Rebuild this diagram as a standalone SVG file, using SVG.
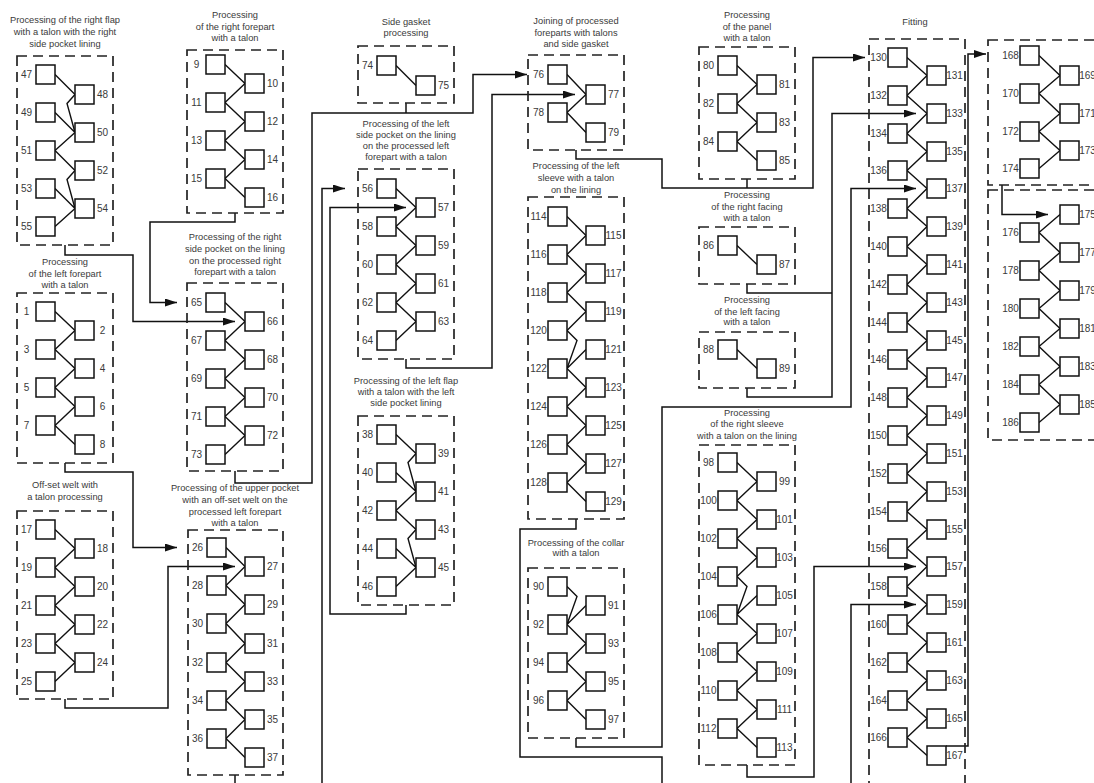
<svg xmlns="http://www.w3.org/2000/svg" xmlns:xlink="http://www.w3.org/1999/xlink" width="1094" height="783" viewBox="0 0 1094 783">
<style>
  .frame { fill: none; stroke: #222; stroke-width: 1.7; stroke-dasharray: 10 6; }
  .box { fill: #fff; stroke: #111; stroke-width: 1.5; }
  .link { fill: none; stroke: #111; stroke-width: 1.4; stroke-linejoin: miter; }
  .conn { fill: none; stroke: #111; stroke-width: 1.5; }
  .title { font-family: "Liberation Sans", Arial, sans-serif; font-size: 9.3px; fill: #3a3a3a; text-anchor: middle; }
  .num { font-family: "Liberation Sans", Arial, sans-serif; font-size: 10px; fill: #3a3a3a; text-anchor: middle; }
</style>
<defs>
  <rect id="sq" width="19" height="19" class="box"/>
  <marker id="arrow" markerUnits="userSpaceOnUse" markerWidth="12" markerHeight="8" refX="12" refY="4" orient="auto">
    <path d="M0,0 L12,4 L0,8 Z" fill="#111"/>
  </marker>
</defs>
<rect width="1094" height="783" fill="#fff"/>

<!-- connectors between process blocks -->
<g id="connectors">
  <path class="conn" d="M65,245 V255 H133 V321.5 H235" marker-end="url(#arrow)"/>
  <path class="conn" d="M235,213 V222 H150 V302.5 H177" marker-end="url(#arrow)"/>
  <path class="conn" d="M65,463 V472 H133 V547.5 H177" marker-end="url(#arrow)"/>
  <path class="conn" d="M65,699 V708 H168 V566.5 H235" marker-end="url(#arrow)"/>
  <path class="conn" d="M235,775 V795 H322 V188.5 H345" marker-end="url(#arrow)"/>
  <path class="conn" d="M235,471 V483 H312 V113 H473 V74.5 H527" marker-end="url(#arrow)"/>
  <path class="conn" d="M406,103 V113"/>
  <path class="conn" d="M406,605 V614 H330 V207.5 H406" marker-end="url(#arrow)"/>
  <path class="conn" d="M406,359 V368 H492 V94.5 H575" marker-end="url(#arrow)"/>
  <path class="conn" d="M576,150 V159 H662 V188 H813 V57.5 H865" marker-end="url(#arrow)"/>
  <path class="conn" d="M747,179 V188"/>
  <path class="conn" d="M747,284 V293 H832"/>
  <path class="conn" d="M747,388 V397 H832 V113.5 H916" marker-end="url(#arrow)"/>
  <path class="conn" d="M576,738 V747 H662 V407 H851 V188.5 H916" marker-end="url(#arrow)"/>
  <path class="conn" d="M576,519 V529 H520 V757 H662 V795 H851 V604.5 H916" marker-end="url(#arrow)"/>
  <path class="conn" d="M747,765 V777 H814 V566.5 H916" marker-end="url(#arrow)"/>
  <path class="conn" d="M946,746 H968 V54 H986" marker-end="url(#arrow)"/>
  <path class="conn" d="M1002,185 V214.5 H1048" marker-end="url(#arrow)"/>
</g>

<!-- right flap with the right side pocket lining -->
<g id="right-flap">
  <text class="title"><tspan x="65" y="23">Processing of the right flap</tspan><tspan x="65" y="35">with a talon with the right</tspan><tspan x="65" y="47">side pocket lining</tspan></text>
  <rect class="frame" x="17" y="56" width="96" height="189"/>
  <path class="link" d="M55,74.5L75,94.5 M75,94.5L67,103.5L75,132.5 M55,112.5L75,132.5 M55,150.5L75,132.5 M55,150.5L75,170.5 M75,170.5L67,179.5L75,208.5 M55,188.5L75,208.5 M55,226.5L75,208.5"/>
  <use href="#sq" x="36" y="65"/><use href="#sq" x="36" y="103"/><use href="#sq" x="36" y="141"/><use href="#sq" x="36" y="179"/><use href="#sq" x="36" y="217"/>
  <use href="#sq" x="75" y="85"/><use href="#sq" x="75" y="123"/><use href="#sq" x="75" y="161"/><use href="#sq" x="75" y="199"/>
  <text class="num" x="26.5" y="78">47</text><text class="num" x="26.5" y="116">49</text><text class="num" x="26.5" y="154">51</text><text class="num" x="26.5" y="192">53</text><text class="num" x="26.5" y="230">55</text>
  <text class="num" x="102.5" y="98">48</text><text class="num" x="102.5" y="136">50</text><text class="num" x="102.5" y="174">52</text><text class="num" x="102.5" y="212">54</text>
</g>

<!-- right forepart -->
<g id="right-forepart">
  <text class="title"><tspan x="235" y="18">Processing</tspan><tspan x="235" y="30">of the right forepart</tspan><tspan x="235" y="41">with a talon</tspan></text>
  <rect class="frame" x="187" y="50" width="96" height="163"/>
  <path class="link" d="M225,64.5 L245,83.5 L225,102.5 L245,121.5 L225,140.5 L245,159.5 L225,178.5 L245,197.5"/>
  <use href="#sq" x="206" y="55"/><use href="#sq" x="206" y="93"/><use href="#sq" x="206" y="131"/><use href="#sq" x="206" y="169"/>
  <use href="#sq" x="245" y="74"/><use href="#sq" x="245" y="112"/><use href="#sq" x="245" y="150"/><use href="#sq" x="245" y="188"/>
  <text class="num" x="196.5" y="68">9</text><text class="num" x="196.5" y="106">11</text><text class="num" x="196.5" y="144">13</text><text class="num" x="196.5" y="182">15</text>
  <text class="num" x="272.5" y="87">10</text><text class="num" x="272.5" y="125">12</text><text class="num" x="272.5" y="163">14</text><text class="num" x="272.5" y="201">16</text>
</g>

<!-- left forepart -->
<g id="left-forepart">
  <text class="title"><tspan x="65" y="265">Processing</tspan><tspan x="65" y="277">of the left forepart</tspan><tspan x="65" y="288">with a talon</tspan></text>
  <rect class="frame" x="17" y="293" width="96" height="170"/>
  <path class="link" d="M55,311.5 L75,330.5 L55,349.5 L75,368.5 L55,387.5 L75,406.5 L55,425.5 L75,444.5"/>
  <use href="#sq" x="36" y="302"/><use href="#sq" x="36" y="340"/><use href="#sq" x="36" y="378"/><use href="#sq" x="36" y="416"/>
  <use href="#sq" x="75" y="321"/><use href="#sq" x="75" y="359"/><use href="#sq" x="75" y="397"/><use href="#sq" x="75" y="435"/>
  <text class="num" x="26.5" y="315">1</text><text class="num" x="26.5" y="353">3</text><text class="num" x="26.5" y="391">5</text><text class="num" x="26.5" y="429">7</text>
  <text class="num" x="102.5" y="334">2</text><text class="num" x="102.5" y="372">4</text><text class="num" x="102.5" y="410">6</text><text class="num" x="102.5" y="448">8</text>
</g>

<!-- off-set welt -->
<g id="offset-welt">
  <text class="title"><tspan x="65" y="488">Off-set welt with</tspan><tspan x="65" y="500">a talon processing</tspan></text>
  <rect class="frame" x="17" y="511" width="96" height="188"/>
  <path class="link" d="M55,529.5 L75,548.5 L55,567.5 L75,586.5 L55,605.5 L75,624.5 L55,643.5 L75,662.5 L55,681.5"/>
  <use href="#sq" x="36" y="520"/><use href="#sq" x="36" y="558"/><use href="#sq" x="36" y="596"/><use href="#sq" x="36" y="634"/><use href="#sq" x="36" y="672"/>
  <use href="#sq" x="75" y="539"/><use href="#sq" x="75" y="577"/><use href="#sq" x="75" y="615"/><use href="#sq" x="75" y="653"/>
  <text class="num" x="26.5" y="533">17</text><text class="num" x="26.5" y="571">19</text><text class="num" x="26.5" y="609">21</text><text class="num" x="26.5" y="647">23</text><text class="num" x="26.5" y="685">25</text>
  <text class="num" x="102.5" y="552">18</text><text class="num" x="102.5" y="590">20</text><text class="num" x="102.5" y="628">22</text><text class="num" x="102.5" y="666">24</text>
</g>

<!-- upper pocket with off-set welt -->
<g id="upper-pocket">
  <text class="title"><tspan x="235" y="491">Processing of the upper pocket</tspan><tspan x="235" y="503">with an off-set welt on the</tspan><tspan x="235" y="515">processed left forepart</tspan><tspan x="235" y="526">with a talon</tspan></text>
  <rect class="frame" x="188" y="530" width="95" height="245"/>
  <path class="link" d="M226,547.5 L245,566.5 L226,585.5 L245,604.5 L226,623.5 L245,643.5 L226,662.5 L245,681.5 L226,700.5 L245,719.5 L226,738.5 L245,757.5"/>
  <use href="#sq" x="207" y="538"/><use href="#sq" x="207" y="576"/><use href="#sq" x="207" y="614"/><use href="#sq" x="207" y="653"/><use href="#sq" x="207" y="691"/><use href="#sq" x="207" y="729"/>
  <use href="#sq" x="245" y="557"/><use href="#sq" x="245" y="595"/><use href="#sq" x="245" y="634"/><use href="#sq" x="245" y="672"/><use href="#sq" x="245" y="710"/><use href="#sq" x="245" y="748"/>
  <text class="num" x="197.5" y="551">26</text><text class="num" x="197.5" y="589">28</text><text class="num" x="197.5" y="627">30</text><text class="num" x="197.5" y="666">32</text><text class="num" x="197.5" y="704">34</text><text class="num" x="197.5" y="742">36</text>
  <text class="num" x="272.5" y="570">27</text><text class="num" x="272.5" y="608">29</text><text class="num" x="272.5" y="647">31</text><text class="num" x="272.5" y="685">33</text><text class="num" x="272.5" y="723">35</text><text class="num" x="272.5" y="761">37</text>
</g>

<!-- right side pocket on the lining -->
<g id="right-side-pocket">
  <text class="title"><tspan x="235" y="240">Processing of the right</tspan><tspan x="235" y="252">side pocket on the lining</tspan><tspan x="235" y="264">on the processed right</tspan><tspan x="235" y="275">forepart with a talon</tspan></text>
  <rect class="frame" x="187" y="283" width="96" height="188"/>
  <path class="link" d="M225,302.5 L245,321.5 L225,340.5 L245,359.5 L225,378.5 L245,397.5 L225,416.5 L245,435.5 L225,454.5"/>
  <use href="#sq" x="206" y="293"/><use href="#sq" x="206" y="331"/><use href="#sq" x="206" y="369"/><use href="#sq" x="206" y="407"/><use href="#sq" x="206" y="445"/>
  <use href="#sq" x="245" y="312"/><use href="#sq" x="245" y="350"/><use href="#sq" x="245" y="388"/><use href="#sq" x="245" y="426"/>
  <text class="num" x="196.5" y="306">65</text><text class="num" x="196.5" y="344">67</text><text class="num" x="196.5" y="382">69</text><text class="num" x="196.5" y="420">71</text><text class="num" x="196.5" y="458">73</text>
  <text class="num" x="272.5" y="325">66</text><text class="num" x="272.5" y="363">68</text><text class="num" x="272.5" y="401">70</text><text class="num" x="272.5" y="439">72</text>
</g>

<!-- side gasket -->
<g id="side-gasket">
  <text class="title"><tspan x="406" y="25">Side gasket</tspan><tspan x="406" y="36">processing</tspan></text>
  <rect class="frame" x="358" y="46" width="96" height="57"/>
  <path class="link" d="M396,65.5 L416,85.5"/>
  <use href="#sq" x="377" y="56"/><use href="#sq" x="416" y="76"/>
  <text class="num" x="367.5" y="69">74</text><text class="num" x="443.5" y="89">75</text>
</g>

<!-- left side pocket on the lining -->
<g id="left-side-pocket">
  <text class="title"><tspan x="406" y="127">Processing of the left</tspan><tspan x="406" y="138">side pocket on the lining</tspan><tspan x="406" y="149">on the processed left</tspan><tspan x="406" y="160">forepart with a talon</tspan></text>
  <rect class="frame" x="358" y="169" width="96" height="190"/>
  <path class="link" d="M396,188.5 L416,207.5 L396,226.5 L416,245.5 L396,264.5 L416,283.5 L396,302.5 L416,321.5 L396,340.5"/>
  <use href="#sq" x="377" y="179"/><use href="#sq" x="377" y="217"/><use href="#sq" x="377" y="255"/><use href="#sq" x="377" y="293"/><use href="#sq" x="377" y="331"/>
  <use href="#sq" x="416" y="198"/><use href="#sq" x="416" y="236"/><use href="#sq" x="416" y="274"/><use href="#sq" x="416" y="312"/>
  <text class="num" x="367.5" y="192">56</text><text class="num" x="367.5" y="230">58</text><text class="num" x="367.5" y="268">60</text><text class="num" x="367.5" y="306">62</text><text class="num" x="367.5" y="344">64</text>
  <text class="num" x="443.5" y="211">57</text><text class="num" x="443.5" y="249">59</text><text class="num" x="443.5" y="287">61</text><text class="num" x="443.5" y="325">63</text>
</g>

<!-- left flap with the left side pocket lining -->
<g id="left-flap">
  <text class="title"><tspan x="406" y="384">Processing of the left flap</tspan><tspan x="406" y="395">with a talon with the left</tspan><tspan x="406" y="406">side pocket lining</tspan></text>
  <rect class="frame" x="358" y="416" width="96" height="189"/>
  <path class="link" d="M396,434.5L416,453.5 M416,453.5L408,462.5L416,491.5 M396,472.5L416,491.5 M396,510.5L416,491.5 M396,510.5L416,529.5 M416,529.5L408,538.5L416,567.5 M396,548.5L416,567.5 M396,586.5L416,567.5"/>
  <use href="#sq" x="377" y="425"/><use href="#sq" x="377" y="463"/><use href="#sq" x="377" y="501"/><use href="#sq" x="377" y="539"/><use href="#sq" x="377" y="577"/>
  <use href="#sq" x="416" y="444"/><use href="#sq" x="416" y="482"/><use href="#sq" x="416" y="520"/><use href="#sq" x="416" y="558"/>
  <text class="num" x="367.5" y="438">38</text><text class="num" x="367.5" y="476">40</text><text class="num" x="367.5" y="514">42</text><text class="num" x="367.5" y="552">44</text><text class="num" x="367.5" y="590">46</text>
  <text class="num" x="443.5" y="457">39</text><text class="num" x="443.5" y="495">41</text><text class="num" x="443.5" y="533">43</text><text class="num" x="443.5" y="571">45</text>
</g>

<!-- joining of foreparts and side gasket -->
<g id="joining">
  <text class="title"><tspan x="576" y="24">Joining of processed</tspan><tspan x="576" y="36">foreparts with talons</tspan><tspan x="576" y="47">and side gasket</tspan></text>
  <rect class="frame" x="528" y="55" width="96" height="95"/>
  <path class="link" d="M567,74.5 L586,94.5 L567,112.5 L586,132.5"/>
  <use href="#sq" x="548" y="65"/><use href="#sq" x="548" y="103"/>
  <use href="#sq" x="586" y="85"/><use href="#sq" x="586" y="123"/>
  <text class="num" x="538.5" y="78">76</text><text class="num" x="538.5" y="116">78</text>
  <text class="num" x="613.5" y="98">77</text><text class="num" x="613.5" y="136">79</text>
</g>

<!-- left sleeve on the lining -->
<g id="left-sleeve">
  <text class="title"><tspan x="576" y="169">Processing of the left</tspan><tspan x="576" y="181">sleeve with a talon</tspan><tspan x="576" y="193">on the lining</tspan></text>
  <rect class="frame" x="528" y="197" width="96" height="322"/>
  <path class="link" d="M567,216.5 L586,235.5 L567,254.5 L586,273.5 L567,292.5 L586,311.5 L567,330.5 M567,330.5 L577,340.5 L567,368.5 M586,349.5 L567,368.5 L586,387.5 L567,406.5 L586,425.5 L567,444.5 L586,463.5 L567,482.5 L586,501.5"/>
  <use href="#sq" x="548" y="207"/><use href="#sq" x="548" y="245"/><use href="#sq" x="548" y="283"/><use href="#sq" x="548" y="321"/><use href="#sq" x="548" y="359"/><use href="#sq" x="548" y="397"/><use href="#sq" x="548" y="435"/><use href="#sq" x="548" y="473"/>
  <use href="#sq" x="586" y="226"/><use href="#sq" x="586" y="264"/><use href="#sq" x="586" y="302"/><use href="#sq" x="586" y="340"/><use href="#sq" x="586" y="378"/><use href="#sq" x="586" y="416"/><use href="#sq" x="586" y="454"/><use href="#sq" x="586" y="492"/>
  <text class="num" x="538.5" y="220">114</text><text class="num" x="538.5" y="258">116</text><text class="num" x="538.5" y="296">118</text><text class="num" x="538.5" y="334">120</text><text class="num" x="538.5" y="372">122</text><text class="num" x="538.5" y="410">124</text><text class="num" x="538.5" y="448">126</text><text class="num" x="538.5" y="486">128</text>
  <text class="num" x="613.5" y="239">115</text><text class="num" x="613.5" y="277">117</text><text class="num" x="613.5" y="315">119</text><text class="num" x="613.5" y="353">121</text><text class="num" x="613.5" y="391">123</text><text class="num" x="613.5" y="429">125</text><text class="num" x="613.5" y="467">127</text><text class="num" x="613.5" y="505">129</text>
</g>

<!-- collar -->
<g id="collar">
  <text class="title"><tspan x="576" y="546">Processing of the collar</tspan><tspan x="576" y="556">with a talon</tspan></text>
  <rect class="frame" x="528" y="568" width="96" height="170"/>
  <path class="link" d="M567,586.5 L577,596.5 L567,624.5 M586,605.5 L567,624.5 L586,643.5 L567,662.5 L586,681.5 L567,700.5 L586,719.5"/>
  <use href="#sq" x="548" y="577"/><use href="#sq" x="548" y="615"/><use href="#sq" x="548" y="653"/><use href="#sq" x="548" y="691"/>
  <use href="#sq" x="586" y="596"/><use href="#sq" x="586" y="634"/><use href="#sq" x="586" y="672"/><use href="#sq" x="586" y="710"/>
  <text class="num" x="538.5" y="590">90</text><text class="num" x="538.5" y="628">92</text><text class="num" x="538.5" y="666">94</text><text class="num" x="538.5" y="704">96</text>
  <text class="num" x="613.5" y="609">91</text><text class="num" x="613.5" y="647">93</text><text class="num" x="613.5" y="685">95</text><text class="num" x="613.5" y="723">97</text>
</g>

<!-- panel -->
<g id="panel">
  <text class="title"><tspan x="747" y="18">Processing</tspan><tspan x="747" y="30">of the panel</tspan><tspan x="747" y="41">with a talon</tspan></text>
  <rect class="frame" x="699" y="47" width="96" height="132"/>
  <path class="link" d="M737,65.5 L757,84.5 L737,103.5 L757,122.5 L737,141.5 L757,160.5"/>
  <use href="#sq" x="718" y="56"/><use href="#sq" x="718" y="94"/><use href="#sq" x="718" y="132"/>
  <use href="#sq" x="757" y="75"/><use href="#sq" x="757" y="113"/><use href="#sq" x="757" y="151"/>
  <text class="num" x="708.5" y="69">80</text><text class="num" x="708.5" y="107">82</text><text class="num" x="708.5" y="145">84</text>
  <text class="num" x="784.5" y="88">81</text><text class="num" x="784.5" y="126">83</text><text class="num" x="784.5" y="164">85</text>
</g>

<!-- right facing -->
<g id="right-facing">
  <text class="title"><tspan x="747" y="198">Processing</tspan><tspan x="747" y="210">of the right facing</tspan><tspan x="747" y="221">with a talon</tspan></text>
  <rect class="frame" x="699" y="227" width="96" height="57"/>
  <path class="link" d="M737,245.5 L757,264.5"/>
  <use href="#sq" x="718" y="236"/><use href="#sq" x="757" y="255"/>
  <text class="num" x="708.5" y="249">86</text><text class="num" x="784.5" y="268">87</text>
</g>

<!-- left facing -->
<g id="left-facing">
  <text class="title"><tspan x="747" y="303">Processing</tspan><tspan x="747" y="315">of the left facing</tspan><tspan x="747" y="325">with a talon</tspan></text>
  <rect class="frame" x="699" y="332" width="96" height="56"/>
  <path class="link" d="M737,349.5 L757,368.5"/>
  <use href="#sq" x="718" y="340"/><use href="#sq" x="757" y="359"/>
  <text class="num" x="708.5" y="353">88</text><text class="num" x="784.5" y="372">89</text>
</g>

<!-- right sleeve on the lining -->
<g id="right-sleeve">
  <text class="title"><tspan x="747" y="416">Processing</tspan><tspan x="747" y="427">of the right sleeve</tspan><tspan x="747" y="439">with a talon on the lining</tspan></text>
  <rect class="frame" x="699" y="445" width="96" height="320"/>
  <path class="link" d="M737,462.5 L757,481.5 L737,500.5 L757,519.5 L737,538.5 L757,557.5 L737,576.5 M737,576.5 L747,586.5 L737,614.5 M757,595.5 L737,614.5 L757,633.5 L737,652.5 L757,671.5 L737,690.5 L757,709.5 L737,728.5 L757,747.5"/>
  <use href="#sq" x="718" y="453"/><use href="#sq" x="718" y="491"/><use href="#sq" x="718" y="529"/><use href="#sq" x="718" y="567"/><use href="#sq" x="718" y="605"/><use href="#sq" x="718" y="643"/><use href="#sq" x="718" y="681"/><use href="#sq" x="718" y="719"/>
  <use href="#sq" x="757" y="472"/><use href="#sq" x="757" y="510"/><use href="#sq" x="757" y="548"/><use href="#sq" x="757" y="586"/><use href="#sq" x="757" y="624"/><use href="#sq" x="757" y="662"/><use href="#sq" x="757" y="700"/><use href="#sq" x="757" y="738"/>
  <text class="num" x="708.5" y="466">98</text><text class="num" x="708.5" y="504">100</text><text class="num" x="708.5" y="542">102</text><text class="num" x="708.5" y="580">104</text><text class="num" x="708.5" y="618">106</text><text class="num" x="708.5" y="656">108</text><text class="num" x="708.5" y="694">110</text><text class="num" x="708.5" y="732">112</text>
  <text class="num" x="784.5" y="485">99</text><text class="num" x="784.5" y="523">101</text><text class="num" x="784.5" y="561">103</text><text class="num" x="784.5" y="599">105</text><text class="num" x="784.5" y="637">107</text><text class="num" x="784.5" y="675">109</text><text class="num" x="784.5" y="713">111</text><text class="num" x="784.5" y="751">113</text>
</g>

<!-- fitting -->
<g id="fitting">
  <text class="title" x="915" y="25">Fitting</text>
  <rect class="frame" x="869" y="39" width="96" height="800"/>
  <path class="link" d="M907,57.5 L927,75.5 L907,95.5 L927,113.5 L907,133.5 L927,151.5 L907,170.5 L927,188.5 L907,208.5 L927,226.5 L907,246.5 L927,264.5 L907,284.5 L927,302.5 L907,322.5 L927,340.5 L907,359.5 L927,377.5 L907,397.5 L927,415.5 L907,435.5 L927,453.5 L907,473.5 L927,491.5 L907,511.5 L927,529.5 L907,548.5 L927,566.5 L907,586.5 L927,604.5 L907,624.5 L927,642.5 L907,662.5 L927,680.5 L907,700.5 L927,718.5 L907,737.5 L927,755.5"/>
  <use href="#sq" x="888" y="48"/><use href="#sq" x="888" y="86"/><use href="#sq" x="888" y="124"/><use href="#sq" x="888" y="161"/><use href="#sq" x="888" y="199"/><use href="#sq" x="888" y="237"/><use href="#sq" x="888" y="275"/><use href="#sq" x="888" y="313"/><use href="#sq" x="888" y="350"/><use href="#sq" x="888" y="388"/><use href="#sq" x="888" y="426"/><use href="#sq" x="888" y="464"/><use href="#sq" x="888" y="502"/><use href="#sq" x="888" y="539"/><use href="#sq" x="888" y="577"/><use href="#sq" x="888" y="615"/><use href="#sq" x="888" y="653"/><use href="#sq" x="888" y="691"/><use href="#sq" x="888" y="728"/>
  <use href="#sq" x="927" y="66"/><use href="#sq" x="927" y="104"/><use href="#sq" x="927" y="142"/><use href="#sq" x="927" y="179"/><use href="#sq" x="927" y="217"/><use href="#sq" x="927" y="255"/><use href="#sq" x="927" y="293"/><use href="#sq" x="927" y="331"/><use href="#sq" x="927" y="368"/><use href="#sq" x="927" y="406"/><use href="#sq" x="927" y="444"/><use href="#sq" x="927" y="482"/><use href="#sq" x="927" y="520"/><use href="#sq" x="927" y="557"/><use href="#sq" x="927" y="595"/><use href="#sq" x="927" y="633"/><use href="#sq" x="927" y="671"/><use href="#sq" x="927" y="709"/><use href="#sq" x="927" y="746"/>
  <text class="num" x="878.5" y="61">130</text><text class="num" x="878.5" y="99">132</text><text class="num" x="878.5" y="137">134</text><text class="num" x="878.5" y="174">136</text><text class="num" x="878.5" y="212">138</text><text class="num" x="878.5" y="250">140</text><text class="num" x="878.5" y="288">142</text><text class="num" x="878.5" y="326">144</text><text class="num" x="878.5" y="363">146</text><text class="num" x="878.5" y="401">148</text><text class="num" x="878.5" y="439">150</text><text class="num" x="878.5" y="477">152</text><text class="num" x="878.5" y="515">154</text><text class="num" x="878.5" y="552">156</text><text class="num" x="878.5" y="590">158</text><text class="num" x="878.5" y="628">160</text><text class="num" x="878.5" y="666">162</text><text class="num" x="878.5" y="704">164</text><text class="num" x="878.5" y="741">166</text>
  <text class="num" x="954.5" y="79">131</text><text class="num" x="954.5" y="117">133</text><text class="num" x="954.5" y="155">135</text><text class="num" x="954.5" y="192">137</text><text class="num" x="954.5" y="230">139</text><text class="num" x="954.5" y="268">141</text><text class="num" x="954.5" y="306">143</text><text class="num" x="954.5" y="344">145</text><text class="num" x="954.5" y="381">147</text><text class="num" x="954.5" y="419">149</text><text class="num" x="954.5" y="457">151</text><text class="num" x="954.5" y="495">153</text><text class="num" x="954.5" y="533">155</text><text class="num" x="954.5" y="570">157</text><text class="num" x="954.5" y="608">159</text><text class="num" x="954.5" y="646">161</text><text class="num" x="954.5" y="684">163</text><text class="num" x="954.5" y="722">165</text><text class="num" x="954.5" y="759">167</text>
</g>

<!-- operations 168-174 -->
<g id="ops-168">
  <rect class="frame" x="988" y="40" width="130" height="145"/>
  <path class="link" d="M1039,55.5 L1060,75.5 L1039,93.5 L1060,113.5 L1039,131.5 L1060,150.5 L1039,168.5"/>
  <use href="#sq" x="1020" y="46"/><use href="#sq" x="1020" y="84"/><use href="#sq" x="1020" y="122"/><use href="#sq" x="1020" y="159"/>
  <use href="#sq" x="1060" y="66"/><use href="#sq" x="1060" y="104"/><use href="#sq" x="1060" y="141"/>
  <text class="num" x="1010.5" y="59">168</text><text class="num" x="1010.5" y="97">170</text><text class="num" x="1010.5" y="135">172</text><text class="num" x="1010.5" y="172">174</text>
  <text class="num" x="1087.5" y="79">169</text><text class="num" x="1087.5" y="117">171</text><text class="num" x="1087.5" y="154">173</text>
</g>

<!-- operations 175-186 -->
<g id="ops-175">
  <rect class="frame" x="988" y="190" width="130" height="250"/>
  <path class="link" d="M1060,214.5 L1039,232.5 L1060,252.5 L1039,270.5 L1060,290.5 L1039,308.5 L1060,328.5 L1039,346.5 L1060,366.5 L1039,384.5 L1060,404.5 L1039,422.5"/>
  <use href="#sq" x="1020" y="223"/><use href="#sq" x="1020" y="261"/><use href="#sq" x="1020" y="299"/><use href="#sq" x="1020" y="337"/><use href="#sq" x="1020" y="375"/><use href="#sq" x="1020" y="413"/>
  <use href="#sq" x="1060" y="205"/><use href="#sq" x="1060" y="243"/><use href="#sq" x="1060" y="281"/><use href="#sq" x="1060" y="319"/><use href="#sq" x="1060" y="357"/><use href="#sq" x="1060" y="395"/>
  <text class="num" x="1010.5" y="236">176</text><text class="num" x="1010.5" y="274">178</text><text class="num" x="1010.5" y="312">180</text><text class="num" x="1010.5" y="350">182</text><text class="num" x="1010.5" y="388">184</text><text class="num" x="1010.5" y="426">186</text>
  <text class="num" x="1087.5" y="218">175</text><text class="num" x="1087.5" y="256">177</text><text class="num" x="1087.5" y="294">179</text><text class="num" x="1087.5" y="332">181</text><text class="num" x="1087.5" y="370">183</text><text class="num" x="1087.5" y="408">185</text>
</g>
</svg>
